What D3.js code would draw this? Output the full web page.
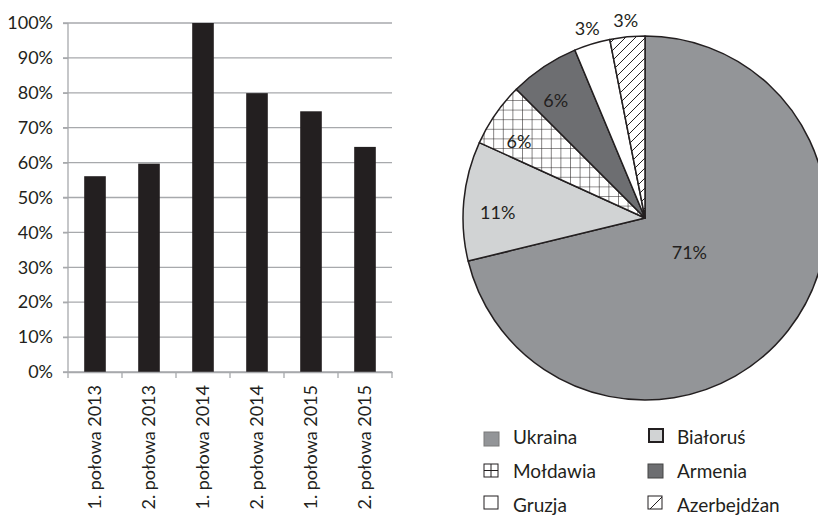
<!DOCTYPE html>
<html>
<head>
<meta charset="utf-8">
<script src="https://cdn.jsdelivr.net/npm/d3@7/dist/d3.min.js"></script>
<style>
  body { margin: 0; background: #fff; }
  text { font-family: Lato, "Open Sans", sans-serif; fill: #231f20; }
</style>
</head>
<body>
<svg id="chart" width="818" height="516"></svg>
<script>
// ---- data ----
const categories = ["1. połowa 2013", "2. połowa 2013", "1. połowa 2014", "2. połowa 2014", "1. połowa 2015", "2. połowa 2015"];
const barValues = [56.1, 59.7, 100, 79.9, 74.7, 64.5];
const yTicks = [0, 10, 20, 30, 40, 50, 60, 70, 80, 90, 100];

const countries = ["Ukraina", "Białoruś", "Mołdawia", "Armenia", "Gruzja", "Azerbejdżan"];
const shares = [71.2, 10.6, 5.7, 6.2, 3.2, 3.1];
const legendOrder = ["Ukraina", "Białoruś", "Mołdawia", "Armenia", "Gruzja", "Azerbejdżan"];

const FONT = "Lato";
const svg = d3.select("#chart");

// ---- patterns ----
const defs = svg.append("defs");
const grid = defs.append("pattern").attr("id", "grid").attr("patternUnits", "userSpaceOnUse")
  .attr("width", 9.6).attr("height", 9.6).attr("x", 645).attr("y", 218);
grid.append("rect").attr("width", 9.6).attr("height", 9.6).attr("fill", "#fff");
grid.append("path").attr("d", "M0,0H9.6M0,0V9.6").attr("stroke", "#231f20").attr("stroke-width", 1.1);
const diag = defs.append("pattern").attr("id", "diag").attr("patternUnits", "userSpaceOnUse")
  .attr("width", 10).attr("height", 10);
diag.append("rect").attr("width", 10).attr("height", 10).attr("fill", "#fff");
diag.append("path").attr("d", "M-2,2L2,-2M0,10L10,0M8,12L12,8").attr("stroke", "#231f20").attr("stroke-width", 1);

const fills = {
  "Ukraina": "#939598",
  "Białoruś": "#d1d3d4",
  "Mołdawia": "url(#grid)",
  "Armenia": "#6d6e71",
  "Gruzja": "#ffffff",
  "Azerbejdżan": "url(#diag)"
};

// ---- bar chart ----
const x = d3.scaleBand().domain(categories).range([68, 392]).paddingInner(0.6).paddingOuter(0.3);
const y = d3.scaleLinear().domain([0, 100]).range([372, 23]);

const gGrid = svg.append("g");
gGrid.selectAll("line").data(yTicks).join("line")
  .attr("x1", 63).attr("x2", 392)
  .attr("y1", d => y(d)).attr("y2", d => y(d))
  .attr("stroke", "#a7a9ac").attr("stroke-width", 1.3);

svg.append("g").selectAll("rect").data(barValues).join("rect")
  .attr("x", (d, i) => x(categories[i]))
  .attr("width", x.bandwidth())
  .attr("y", d => y(d))
  .attr("height", d => y(0) - y(d))
  .attr("fill", "#231f20");

// y axis
const yAxis = svg.append("g").attr("transform", "translate(68,0)")
  .call(d3.axisLeft(y).tickValues(yTicks).tickFormat(d => d + "%").tickSize(5).tickPadding(10));
yAxis.selectAll("path, line").attr("stroke", "#a7a9ac").attr("stroke-width", 1.3);
yAxis.select(".domain").attr("d", "M0,23V372");
yAxis.selectAll("text").style("font-size", "18px").attr("fill", "#231f20").style("font-family", FONT);

// x axis
const xb = d3.scaleBand().domain(categories).range([68, 392]);
const xAxis = svg.append("g").attr("transform", "translate(0,372)")
  .call(d3.axisBottom(xb).tickSize(0).tickPadding(0));
xAxis.select(".domain").attr("stroke", "#a7a9ac").attr("stroke-width", 1.3);
xAxis.selectAll(".tick text")
  .style("font-size", "18px").style("font-family", FONT).attr("fill", "#231f20")
  .attr("transform", "rotate(-90)")
  .attr("text-anchor", "end")
  .attr("x", -13).attr("y", 0).attr("dy", "0.35em");
// boundary ticks
svg.append("g").selectAll("line").data(d3.range(categories.length + 1)).join("line")
  .attr("x1", i => 68 + i * xb.step()).attr("x2", i => 68 + i * xb.step())
  .attr("y1", 372).attr("y2", 378)
  .attr("stroke", "#a7a9ac").attr("stroke-width", 1.3);

// ---- pie chart ----
const cx = 645, cy = 218, R = 182;
const pie = d3.pie().sort(null).value(d => d)(shares);
const arc = d3.arc().innerRadius(0).outerRadius(R);
const gPie = svg.append("g").attr("transform", `translate(${cx},${cy})`);
gPie.selectAll("path").data(pie).join("path")
  .attr("d", arc)
  .attr("fill", (d, i) => fills[countries[i]])
  .attr("stroke", "#231f20").attr("stroke-width", 1.5).attr("stroke-linejoin", "round");

function labelRadius(v) {
  if (v > 50) return R * 0.31;
  if (v < 4) return R * 1.09;
  return R * 0.81;
}
function labelAngle(d) {
  const a = (d.startAngle + d.endAngle) / 2;
  // mid-size inner labels sit slightly counter-clockwise of their mid angle
  return (d.value >= 4 && d.value <= 50) ? a - 0.06 : a;
}
gPie.selectAll("text").data(pie).join("text")
  .attr("transform", d => {
    const a = labelAngle(d);
    const r = labelRadius(d.value);
    return `translate(${Math.sin(a) * r},${-Math.cos(a) * r})`;
  })
  .attr("text-anchor", "middle").attr("dy", "0.35em")
  .style("font-size", "18px").style("font-family", FONT)
  .text(d => Math.round(d.value) + "%");

// ---- legend ----
const legX = [484, 648];
const rowBase = [444, 478, 512];
const swatchCY = [439, 471, 503];
const leg = svg.append("g");
legendOrder.forEach((name, i) => {
  const col = i % 2, row = Math.floor(i / 2);
  const sx = legX[col];
  const sy = swatchCY[row] - 7 - (name === "Białoruś" ? 4 : 0);
  const g = leg.append("g");
  if (name === "Ukraina") {
    g.append("rect").attr("x", sx).attr("y", sy).attr("width", 15).attr("height", 14)
      .attr("fill", "#939598").attr("stroke", "#7a7a7a").attr("stroke-width", 1);
  } else if (name === "Białoruś") {
    g.append("rect").attr("x", sx + 1).attr("y", sy + 1).attr("width", 14).attr("height", 13)
      .attr("fill", "#d1d3d4").attr("stroke", "#231f20").attr("stroke-width", 2);
  } else if (name === "Mołdawia") {
    g.append("rect").attr("x", sx).attr("y", sy).attr("width", 14).attr("height", 13)
      .attr("fill", "#fff").attr("stroke", "#231f20").attr("stroke-width", 1);
    g.append("path").attr("d", `M${sx + 7},${sy}V${sy + 13}M${sx},${sy + 6.5}H${sx + 14}`)
      .attr("stroke", "#231f20").attr("stroke-width", 1);
  } else if (name === "Armenia") {
    g.append("rect").attr("x", sx).attr("y", sy).attr("width", 15).attr("height", 14)
      .attr("fill", "#6d6e71").attr("stroke", "#444").attr("stroke-width", 1);
  } else if (name === "Gruzja") {
    g.append("rect").attr("x", sx).attr("y", sy).attr("width", 14).attr("height", 13)
      .attr("fill", "#fff").attr("stroke", "#231f20").attr("stroke-width", 1);
  } else {
    g.append("rect").attr("x", sx).attr("y", sy).attr("width", 14).attr("height", 13)
      .attr("fill", "#fff").attr("stroke", "#231f20").attr("stroke-width", 1);
    g.append("path").attr("d", `M${sx + 2},${sy + 13}L${sx + 14},${sy + 1}`)
      .attr("stroke", "#231f20").attr("stroke-width", 1);
  }
  g.append("text").attr("x", sx + 29).attr("y", rowBase[row])
    .style("font-size", "19px").style("font-family", FONT).text(name);
});
</script>
</body>
</html>
